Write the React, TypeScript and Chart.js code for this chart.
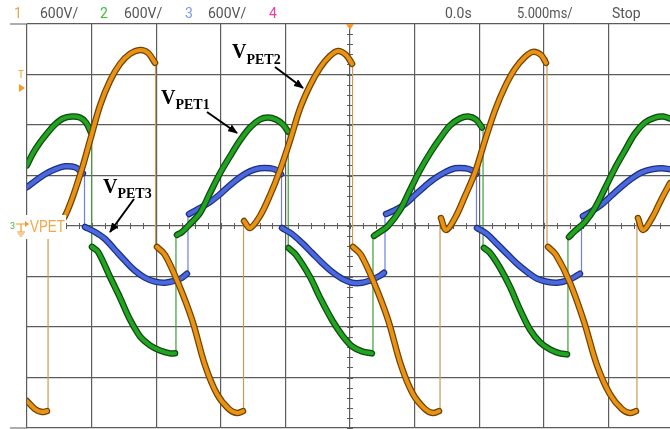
import React, { useEffect, useRef } from "react";
import { Chart, registerables } from "chart.js";
Chart.register(...registerables);

type Pt = [number, number];

// Oscilloscope capture: time in ms (5 ms/div), voltage in V (600 V/div)
const X_MIN = 0;
const X_MAX = 49.77;
const X_STEP = 5;
const X_CENTER = 25;
const Y_MIN = -2400;
const Y_MAX = 2400;
const Y_STEP = 600;

// VPET2 (channel 1, orange)
const vpet2Segments: Pt[][] = [
  [[0, -2080], [0.62, -2175], [1.16, -2210], [1.55, -2199]],
  [[1.7, 59], [2.17, 0], [2.94, 118], [4.1, 603], [4.88, 1017], [5.65, 1430], [6.43, 1726], [7.2, 1927], [7.97, 2045], [8.75, 2092], [9.37, 2057], [9.91, 1938]],
  [[10.06, -248], [10.68, -343], [11.69, -674], [12.77, -1111], [13.78, -1655], [14.71, -1998], [15.63, -2175], [16.25, -2222], [16.72, -2199]],
  [[16.8, 59], [17.26, -24], [18.03, 118], [18.81, 366], [19.58, 662], [20.36, 1017], [21.13, 1395], [21.9, 1667], [22.68, 1879], [23.45, 2021], [24.07, 2080], [24.69, 2033], [25.16, 1927]],
  [[25.23, -248], [25.85, -343], [26.86, -674], [27.94, -1111], [28.95, -1655], [29.88, -1998], [30.81, -2175], [31.42, -2222], [31.89, -2199]],
  [[32.04, 95], [32.43, -47], [33.13, 95], [33.9, 355], [34.68, 638], [35.45, 1017], [36.22, 1371], [37.0, 1655], [37.77, 1868], [38.55, 2009], [39.16, 2069], [39.78, 2033], [40.17, 1938]],
  [[40.33, -248], [40.94, -343], [42.03, -674], [43.11, -1135], [44.12, -1655], [45.12, -1998], [46.05, -2175], [46.67, -2222], [47.14, -2199]],
  [[47.29, 95], [47.68, -47], [48.38, 95], [49.07, 307], [49.77, 508]],
];
const vpet2Jumps: [number, number, number][] = [
  [1.63, -2215, 95], [9.95, 1990, -248], [16.76, -2222, 59], [25.2, 1990, -248],
  [31.97, -2222, 95], [40.25, 2000, -248], [47.21, -2222, 95],
];

// VPET1 (channel 2, green)
const vpet1Segments: Pt[][] = [
  [[0, 721], [0.46, 863], [1.01, 993], [1.55, 1099], [2.17, 1206], [2.79, 1277], [3.48, 1300], [4.1, 1288], [4.57, 1229], [4.95, 1111]],
  [[5.03, -248], [5.5, -307], [6.42, -603], [7.2, -851], [7.97, -1111], [8.75, -1312], [9.52, -1418], [10.29, -1478], [11.07, -1513], [11.46, -1513]],
  [[11.61, -106], [12.0, -71], [12.62, 24], [13.39, 154], [14.16, 390], [14.94, 626], [15.71, 827], [16.49, 1017], [17.26, 1170], [18.03, 1265], [18.65, 1288], [19.27, 1265], [19.81, 1206], [20.2, 1123]],
  [[20.24, -260], [20.82, -343], [21.9, -603], [22.68, -851], [23.68, -1135], [24.46, -1312], [25.16, -1430], [25.93, -1489], [26.7, -1513]],
  [[26.86, -118], [27.32, -71], [27.94, 0], [28.87, 189], [29.64, 426], [30.42, 662], [31.19, 863], [31.97, 1040], [32.74, 1194], [33.51, 1277], [34.13, 1300], [34.75, 1265], [35.22, 1170]],
  [[35.37, -260], [35.84, -319], [36.61, -496], [37.38, -721], [38.16, -993], [38.93, -1229], [39.71, -1383], [40.48, -1466], [41.25, -1513], [41.8, -1525]],
  [[41.95, -130], [42.42, -59], [43.19, 47], [43.96, 213], [44.74, 449], [45.51, 686], [46.29, 898], [47.06, 1099], [47.83, 1229], [48.61, 1288], [49.23, 1300], [49.77, 1277]],
];
const vpet1Jumps: [number, number, number][] = [
  [5.0, 1111, -280], [11.53, -1540, -100], [20.22, 1123, -280],
  [26.78, -1530, -100], [35.3, 1170, -280], [41.87, -1550, -110],
];

// VPET3 (channel 3, blue)
const vpet3Segments: Pt[][] = [
  [[0, 461], [0.62, 532], [1.39, 615], [2.17, 674], [2.94, 709], [3.72, 697], [4.33, 626]],
  [[4.49, -12], [5.26, -71], [6.04, -154], [6.81, -284], [7.59, -414], [8.36, -532], [9.13, -615], [9.91, -662], [10.68, -674], [11.46, -650], [12.0, -615], [12.38, -567]],
  [[12.54, 142], [13.24, 201], [14.16, 284], [14.94, 378], [15.71, 485], [16.49, 579], [17.26, 650], [18.03, 686], [18.81, 686], [19.35, 662], [19.66, 615]],
  [[19.74, -24], [20.51, -95], [21.29, -201], [22.06, -319], [22.83, -437], [23.61, -544], [24.38, -626], [25.16, -674], [25.93, -674], [26.7, -638], [27.32, -591], [27.63, -556]],
  [[27.79, 142], [28.48, 189], [29.26, 260], [30.03, 366], [30.81, 473], [31.58, 567], [32.35, 638], [33.13, 686], [33.9, 686], [34.44, 662], [34.75, 615]],
  [[34.83, -24], [35.6, -95], [36.38, -213], [37.15, -331], [37.93, -449], [38.7, -544], [39.47, -626], [40.25, -662], [41.02, -674], [41.8, -650], [42.42, -603], [42.8, -567]],
  [[43.03, 118], [43.73, 177], [44.51, 260], [45.28, 366], [46.05, 473], [46.83, 567], [47.6, 638], [48.38, 674], [49.15, 686], [49.77, 674]],
];
const vpet3Jumps: [number, number, number][] = [
  [4.45, 640, -30], [12.46, -580, 160], [19.7, 800, -30],
  [27.71, -570, 150], [34.79, 640, -30], [42.92, -580, 140],
];

const GRID = "#5c5c5c";
const ORANGE = "#ea9214";
const ORANGE_EDGE = "#6e4306";
const ORANGE_THIN = "#c99a5a";
const GREEN = "#22a322";
const GREEN_EDGE = "#0d4a0d";
const GREEN_THIN = "#3c9e3c";
const BLUE = "#4b69de";
const BLUE_EDGE = "#1e2f80";
const BLUE_THIN = "#6b80e2";

function toLine(segs: Pt[][]) {
  const out: { x: number; y: number | null }[] = [];
  segs.forEach((s) => {
    s.forEach(([x, y]) => out.push({ x, y }));
    out.push({ x: s[s.length - 1][0], y: null });
  });
  return out;
}
function toJumps(j: [number, number, number][]) {
  const out: { x: number; y: number | null }[] = [];
  j.forEach(([t, a, b]) => {
    out.push({ x: t, y: a }, { x: t, y: b }, { x: t, y: null });
  });
  return out;
}

const minorTicks = {
  id: "minorTicks",
  beforeDatasetsDraw(chart: any) {
    const { ctx, scales, chartArea } = chart;
    const x = scales.x;
    const y = scales.y;
    const cx = x.getPixelForValue(X_CENTER);
    const cy = y.getPixelForValue(0);
    ctx.save();
    ctx.strokeStyle = GRID;
    ctx.lineWidth = 1;
    ctx.beginPath();
    for (let t = X_MIN; t <= X_MAX; t += 1) {
      const px = Math.round(x.getPixelForValue(t)) + 0.5;
      ctx.moveTo(px, cy - 3);
      ctx.lineTo(px, cy + 3);
    }
    for (let v = Y_MIN; v <= Y_MAX; v += 120) {
      const py = Math.round(y.getPixelForValue(v)) + 0.5;
      ctx.moveTo(cx - 3, py);
      ctx.lineTo(cx + 3, py);
    }
    ctx.stroke();
    // top and bottom frame lines extend a little to the left
    ctx.lineWidth = 1.2;
    ctx.beginPath();
    ctx.moveTo(10, chartArea.top);
    ctx.lineTo(chartArea.left, chartArea.top);
    ctx.moveTo(10, chartArea.bottom);
    ctx.lineTo(chartArea.left, chartArea.bottom);
    ctx.stroke();
    ctx.restore();
  },
};

function lineDs(data: any, color: string, width: number, order: number, tension: number) {
  return {
    data,
    borderColor: color,
    borderWidth: width,
    pointRadius: 0,
    tension,
    spanGaps: false,
    order,
    borderCapStyle: "round" as const,
    borderJoinStyle: "round" as const,
  };
}

export default function App() {
  const ref = useRef<HTMLCanvasElement>(null);
  useEffect(() => {
    if (!ref.current) return;
    const chart = new Chart(ref.current, {
      type: "line",
      data: {
        datasets: [
          lineDs(toLine(vpet2Segments), ORANGE, 4, 0, 0.35),
          lineDs(toLine(vpet2Segments), ORANGE_EDGE, 6.5, 1, 0.35),
          lineDs(toLine(vpet1Segments), GREEN, 4, 2, 0.35),
          lineDs(toLine(vpet1Segments), GREEN_EDGE, 6.5, 3, 0.35),
          lineDs(toLine(vpet3Segments), BLUE, 4, 4, 0.35),
          lineDs(toLine(vpet3Segments), BLUE_EDGE, 6.5, 5, 0.35),
          lineDs(toJumps(vpet2Jumps), ORANGE_THIN, 1.2, 6, 0),
          lineDs(toJumps(vpet1Jumps), GREEN_THIN, 1.2, 7, 0),
          lineDs(toJumps(vpet3Jumps), BLUE_THIN, 1.2, 8, 0),
        ],
      },
      options: {
        responsive: false,
        animation: false,
        events: [],
        layout: { padding: { left: 27, top: 24, right: 0, bottom: 1 } },
        plugins: { legend: { display: false }, tooltip: { enabled: false } },
        scales: {
          x: {
            type: "linear",
            min: X_MIN,
            max: X_MAX,
            ticks: { display: false, stepSize: X_STEP },
            afterBuildTicks: (s: any) => {
              s.ticks = s.ticks.filter((t: any) => Math.abs(t.value / X_STEP - Math.round(t.value / X_STEP)) < 1e-6);
            },
            grid: { color: GRID, lineWidth: 1.2, drawTicks: false },
            border: { display: false },
          },
          y: {
            type: "linear",
            min: Y_MIN,
            max: Y_MAX,
            ticks: { display: false, stepSize: Y_STEP },
            grid: { color: GRID, lineWidth: 1.2, drawTicks: false },
            border: { display: false },
          },
        },
      },
      plugins: [minorTicks],
    });
    return () => chart.destroy();
  }, []);

  const hdr = (left: number, text: string, color: string, sx = 1) => (
    <div
      style={{
        position: "absolute",
        left,
        top: 4,
        fontFamily: "Roboto, 'DejaVu Sans', sans-serif",
        fontSize: 14,
        lineHeight: "18px",
        color,
        transform: `scaleX(${sx})`,
        transformOrigin: "left center",
        whiteSpace: "nowrap",
      }}
    >
      {text}
    </div>
  );

  const serif = "'Liberation Serif', 'Times New Roman', serif";

  return (
    <div style={{ position: "fixed", left: 0, top: 0, width: 670, height: 429, background: "#fff", overflow: "hidden" }}>
      <canvas ref={ref} width={670} height={429} style={{ position: "absolute", left: 0, top: 0 }} />
      {hdr(14, "1", "#f2a244")}
      {hdr(40, "600V/", "#555")}
      {hdr(100, "2", "#3cbf3c")}
      {hdr(124, "600V/", "#555")}
      {hdr(185, "3", "#7b96f0")}
      {hdr(208, "600V/", "#555")}
      {hdr(269, "4", "#ec3f9a")}
      {hdr(445, "0.0s", "#555")}
      {hdr(517, "5.000ms/", "#555", 0.92)}
      {hdr(612, "Stop", "#555")}
      <svg width={670} height={429} style={{ position: "absolute", left: 0, top: 0 }}>
        <defs>
          <marker id="ah" markerWidth="10" markerHeight="8" refX="9" refY="4" orient="auto" markerUnits="userSpaceOnUse">
            <path d="M0,0 L10,4 L0,8 Z" fill="#000" />
          </marker>
        </defs>
        {/* top trigger marker */}
        <path d="M346,24 L354,24 L350,30 Z" fill="#f39a2c" />
        {/* trigger level marker */}
        <text x={18} y={78} fontFamily="Roboto, sans-serif" fontSize={10} fill="#f39a2c">T</text>
        <path d="M19,84 L25,88 L19,92 Z" fill="#f39a2c" />
        {/* ground marker with label box */}
        <rect x={8} y={215} width={58} height={24} fill="#fff" />
        <text x={10} y={229} fontFamily="Roboto, sans-serif" fontSize={9} fill="#3cbf3c">3</text>
        <path d="M16,224 L21,224 L21,232 M17,232 L25,232 M18,234 L24,234 M19.5,236 L22.5,236 M21,224 L27,224" stroke="#f39a2c" strokeWidth={1.2} fill="none" />
        <path d="M25,221 L29,224 L25,227 Z" fill="#f39a2c" />
        <text x={30} y={232} fontFamily="'Liberation Sans', Arial, sans-serif" fontSize={17} fill="#f7a646" textLength={35} lengthAdjust="spacingAndGlyphs">VPET</text>
        {/* annotations */}
        <text x={161} y={104} fontFamily={serif} fontWeight="bold" fontSize={20} fill="#000">
          V<tspan fontSize={14} dy={5}>PET1</tspan>
        </text>
        <text x={232} y={58} fontFamily={serif} fontWeight="bold" fontSize={20} fill="#000">
          V<tspan fontSize={14} dy={6}>PET2</tspan>
        </text>
        <text x={103} y={193} fontFamily={serif} fontWeight="bold" fontSize={20} fill="#000">
          V<tspan fontSize={14} dy={5}>PET3</tspan>
        </text>
        <line x1={207} y1={112} x2={237} y2={133} stroke="#000" strokeWidth={2} markerEnd="url(#ah)" />
        <line x1={275} y1={67} x2={303} y2={88} stroke="#000" strokeWidth={2} markerEnd="url(#ah)" />
        <line x1={134} y1={199} x2={110} y2={232} stroke="#000" strokeWidth={2} markerEnd="url(#ah)" />
      </svg>
    </div>
  );
}
